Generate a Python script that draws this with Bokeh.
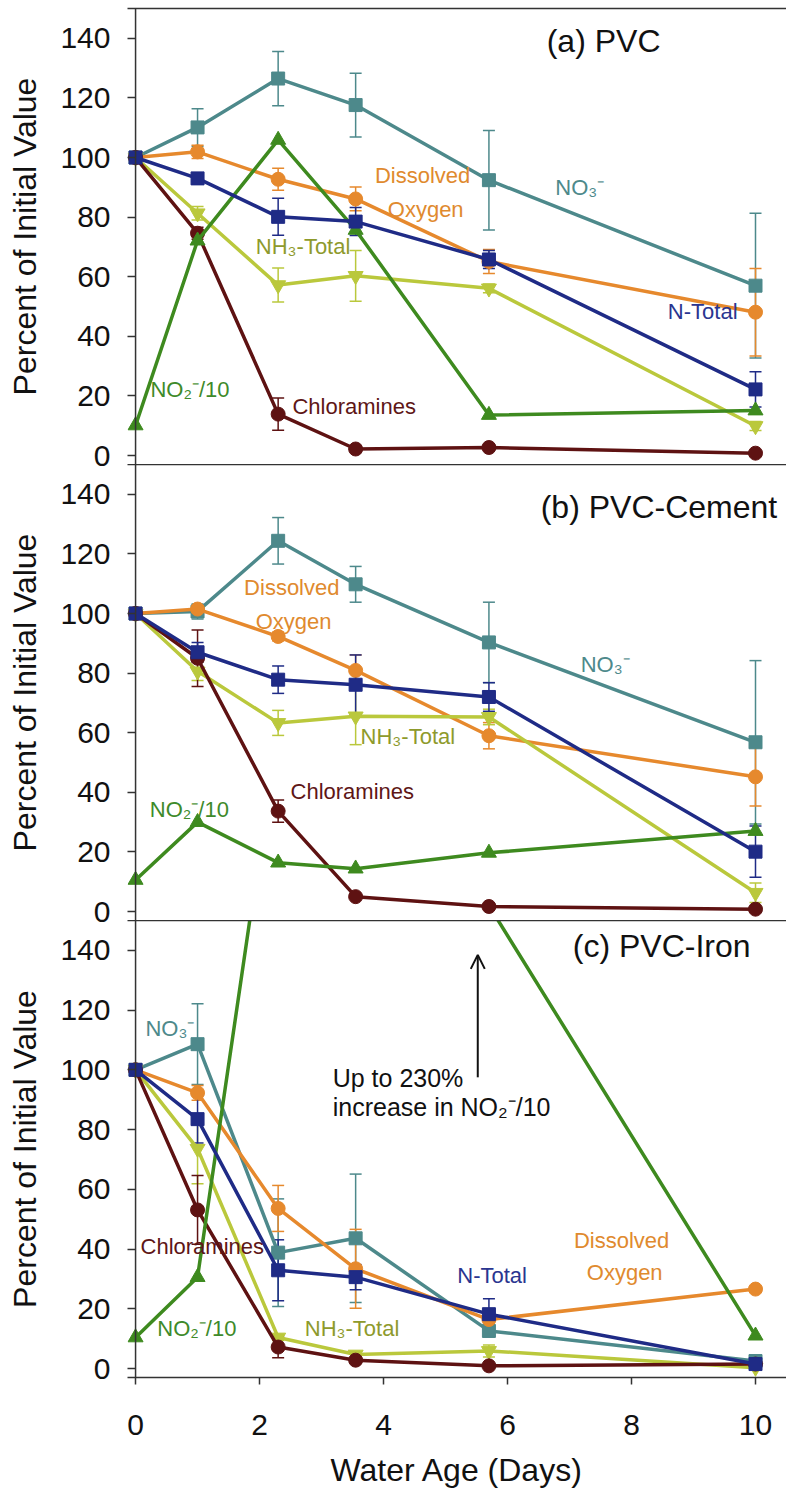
from bokeh.plotting import figure
from bokeh.layouts import column
from bokeh.models import (Range1d, LinearAxis, FixedTicker, ColumnDataSource,
                          Whisker, TeeHead, Arrow, OpenHead, Label, Span)
from bokeh.embed import file_html
from bokeh.resources import INLINE

FONT = "Liberation Sans"

# ---- data -----------------------------------------------------------------
days = [0, 1, 2.3, 3.55, 5.7, 10]
y_ticks = [0, 20, 40, 60, 80, 100, 120, 140]
x_ticks = [0, 2, 4, 6, 8, 10]

# (a) PVC
pvc_nitrate = [100, 110.1, 126.5, 117.6, 92.4, 57.0]
pvc_nitrate_err = [0, 6.3, 9.1, 10.7, 16.7, 24.3]
pvc_oxygen = [100, 101.9, 92.7, 86.1, 65.1, 48.1]
pvc_oxygen_err = [0, 2.2, 3.7, 4.0, 4.0, 14.7]
pvc_ntotal = [100, 93.0, 80.1, 78.5, 65.8, 22.2]
pvc_ntotal_err = [0, 1.0, 6.2, 4.7, 3.0, 5.9]
pvc_ammonia = [100, 81.3, 57.2, 60.3, 56.1, 9.9]
pvc_ammonia_err = [0, 2.3, 5.7, 8.5, 1.5, 1.5]
pvc_chloramine = [100, 74.6, 13.9, 2.2, 2.7, 0.8]
pvc_chloramine_err = [0, 2.0, 5.4, 0.5, 0.5, 0.3]
pvc_nitrite = [10.1, 72.1, 105.9, 75.7, 13.6, 15.1]

# (b) PVC-Cement
cem_nitrate = [100, 100.7, 124.4, 109.8, 90.3, 56.8]
cem_nitrate_err = [0, 2.5, 7.8, 6.0, 13.5, 27.4]
cem_oxygen = [100, 101.5, 92.3, 80.9, 59.0, 45.2]
cem_oxygen_err = [0, 1.0, 1.5, 5.2, 4.4, 9.8]
cem_ntotal = [100, 87.0, 77.8, 76.1, 72.0, 20.1]
cem_ntotal_err = [0, 3.3, 4.6, 10.0, 4.8, 8.6]
cem_ammonia = [100, 80.6, 63.3, 65.5, 65.3, 6.3]
cem_ammonia_err = [0, 3.1, 4.2, 9.5, 2.6, 3.3]
cem_chloramine = [100, 85.0, 33.7, 5.0, 1.7, 0.8]
cem_chloramine_err = [0, 9.5, 3.7, 0.5, 0.5, 0.3]
cem_nitrite = [10.6, 30.0, 16.4, 14.4, 19.7, 27.0]

# (c) PVC-Iron
iron_nitrate = [100, 108.6, 38.8, 43.6, 12.6, 2.5]
iron_nitrate_err = [0, 13.5, 18.0, 21.5, 2.0, 2.0]
iron_oxygen = [100, 92.3, 53.6, 33.4, 16.4, 26.6]
iron_oxygen_err = [0, 2.5, 7.7, 13.2, 2.0, 1.0]
iron_ntotal = [100, 83.5, 32.9, 30.6, 18.2, 1.5]
iron_ntotal_err = [0, 8.0, 10.2, 4.2, 5.2, 1.5]
iron_ammonia = [100, 73.6, 10.4, 4.7, 5.9, 0.3]
iron_ammonia_err = [0, 11.7, 1.0, 1.0, 2.0, 0.5]
iron_chloramine = [100, 53.1, 7.2, 2.8, 0.9, 1.5]
iron_chloramine_err = [0, 11.5, 3.6, 0.5, 0.5, 0.3]
iron_nitrite = [10.4, 30.6, 215, 230, 155, 11.0]

# ---- styles -----------------------------------------------------------------
STYLE = {
    "nitrate":    dict(color="#4d898b", marker="square", size=13),
    "oxygen":     dict(color="#e6892d", marker="circle", size=14),
    "ammonia":    dict(color="#bac83c", marker="inverted_triangle", size=15),
    "chloramine": dict(color="#5e1212", marker="circle", size=14),
    "nitrite":    dict(color="#3e8a1f", marker="triangle", size=15),
    "ntotal":     dict(color="#1f2b86", marker="square", size=13),
}
DRAW_ORDER = ["nitrate", "oxygen", "ammonia", "chloramine", "nitrite", "ntotal"]

TXT = {
    "nitrate": "#4d898b", "oxygen": "#e08a2e", "ammonia": "#8e9a2c",
    "chloramine": "#5e1616", "nitrite": "#3e8a2a", "ntotal": "#2a3590",
    "black": "#111111",
}
AXIS_COLOR = "#333333"
OVERLAP = 14   # lets the "0" tick label of a panel hang into the next one

# a little room left of day 0 so the first markers are not cut by the frame
x_range = Range1d(-0.13, 10.5)


def style_axis(ax, tick_in, tick_out, standoff, title, title_standoff):
    ax.major_tick_in = tick_in
    ax.major_tick_out = tick_out
    ax.minor_tick_out = 0
    ax.minor_tick_in = 0
    ax.major_tick_line_width = 1.5
    ax.major_tick_line_color = AXIS_COLOR
    ax.major_label_text_font = FONT
    ax.major_label_text_font_size = "30px"
    ax.major_label_text_color = "#111111"
    ax.major_label_standoff = standoff
    ax.axis_label = title
    ax.axis_label_text_font = FONT
    ax.axis_label_text_font_size = "32px"
    ax.axis_label_text_font_style = "normal"
    ax.axis_label_text_color = "#111111"
    ax.axis_label_standoff = title_standoff


def make_panel(height, border_top, border_bottom, series, labels, show_x,
               fill, margin):
    p = figure(width=786, height=height, x_range=x_range,
               y_range=Range1d(-3, 150), output_backend="svg",
               toolbar_location=None, x_axis_location=None,
               min_border_left=127, min_border_right=0,
               min_border_top=border_top, min_border_bottom=border_bottom,
               margin=margin)
    p.outline_line_color = None
    p.xgrid.visible = False
    p.ygrid.visible = False
    p.background_fill_color = fill
    p.border_fill_color = fill

    # y axis: ticks reach from the frame edge to the day-0 line
    ya = p.yaxis[0]
    ya.ticker = FixedTicker(ticks=y_ticks)
    ya.axis_line_color = None
    style_axis(ya, 8, 0, 17, "Percent of Initial Value", 14)
    p.add_layout(Span(location=0, dimension="height", line_color=AXIS_COLOR,
                      line_width=1.5))

    top = LinearAxis(ticker=FixedTicker(ticks=[]), major_tick_out=0,
                     major_tick_in=0, minor_tick_out=0, minor_tick_in=0,
                     major_label_text_font_size="0px",
                     axis_line_width=1.5, axis_line_color=AXIS_COLOR)
    p.add_layout(top, "above")

    if show_x:
        xa = LinearAxis(ticker=FixedTicker(ticks=x_ticks))
        xa.axis_line_width = 1.5
        xa.axis_line_color = AXIS_COLOR
        style_axis(xa, 0, 7, 30, "Water Age (Days)", 14)
        p.add_layout(xa, "below")

    for key in DRAW_ORDER:
        vals, errs = series[key]
        st = STYLE[key]
        c = st["color"]
        if errs is not None:
            xs, lo, hi = [], [], []
            for d, v, e in zip(days, vals, errs):
                if e > 0:
                    xs.append(d)
                    lo.append(v - e)
                    hi.append(v + e)
            src = ColumnDataSource(dict(x=xs, lower=lo, upper=hi))
            p.add_layout(Whisker(source=src, base="x", lower="lower",
                                 upper="upper", dimension="height",
                                 line_color=c, line_width=1.5,
                                 upper_head=TeeHead(size=12, line_color=c, line_width=1.5),
                                 lower_head=TeeHead(size=12, line_color=c, line_width=1.5)))
        p.line(days, vals, line_color=c, line_width=3.5)
        p.scatter(days, vals, marker=st["marker"], size=st["size"],
                  fill_color=c, line_color=c)

    for text, x, y, col, size, align in labels:
        p.add_layout(Label(x=x, y=y, text=text, text_font=FONT,
                           text_font_size=size, text_color=TXT[col],
                           text_align=align, text_baseline="middle"))
    return p


LBL = "22px"
TTL = "32px"

panel_a = make_panel(
    464 + OVERLAP, 8, OVERLAP,
    {"nitrate": (pvc_nitrate, pvc_nitrate_err),
     "oxygen": (pvc_oxygen, pvc_oxygen_err),
     "ntotal": (pvc_ntotal, pvc_ntotal_err),
     "ammonia": (pvc_ammonia, pvc_ammonia_err),
     "chloramine": (pvc_chloramine, pvc_chloramine_err),
     "nitrite": (pvc_nitrite, None)},
    [("(a) PVC", 7.55, 139.0, "black", TTL, "center"),
     ("Dissolved", 4.63, 93.8, "oxygen", LBL, "center"),
     ("Oxygen", 4.68, 82.4, "oxygen", LBL, "center"),
     ("NO\u2083\u207b", 6.77, 90.1, "nitrate", LBL, "left"),
     ("NH\u2083-Total", 1.94, 70.0, "ammonia", LBL, "left"),
     ("N-Total", 9.71, 48.2, "ntotal", LBL, "right"),
     ("NO\u2082\u207b/10", 0.24, 22.0, "nitrite", LBL, "left"),
     ("Chloramines", 2.53, 16.3, "chloramine", LBL, "left")],
    False, "white", (0, 0, -OVERLAP, 0))

panel_b = make_panel(
    456 + OVERLAP, 0, OVERLAP,
    {"nitrate": (cem_nitrate, cem_nitrate_err),
     "oxygen": (cem_oxygen, cem_oxygen_err),
     "ntotal": (cem_ntotal, cem_ntotal_err),
     "ammonia": (cem_ammonia, cem_ammonia_err),
     "chloramine": (cem_chloramine, cem_chloramine_err),
     "nitrite": (cem_nitrite, None)},
    [("(b) PVC-Cement", 10.35, 135.8, "black", TTL, "right"),
     ("Dissolved", 2.52, 108.6, "oxygen", LBL, "center"),
     ("Oxygen", 2.55, 97.2, "oxygen", LBL, "center"),
     ("NO\u2083\u207b", 7.18, 82.8, "nitrate", LBL, "left"),
     ("NH\u2083-Total", 3.63, 58.7, "ammonia", LBL, "left"),
     ("Chloramines", 2.5, 40.3, "chloramine", LBL, "left"),
     ("NO\u2082\u207b/10", 0.23, 34.3, "nitrite", LBL, "left")],
    False, None, (0, 0, -OVERLAP, 0))

panel_c = make_panel(
    570, 0, 113,
    {"nitrate": (iron_nitrate, iron_nitrate_err),
     "oxygen": (iron_oxygen, iron_oxygen_err),
     "ntotal": (iron_ntotal, iron_ntotal_err),
     "ammonia": (iron_ammonia, iron_ammonia_err),
     "chloramine": (iron_chloramine, iron_chloramine_err),
     "nitrite": (iron_nitrite, None)},
    [("(c) PVC-Iron", 9.92, 141.3, "black", TTL, "right"),
     ("NO\u2083\u207b", 0.16, 114.0, "nitrate", LBL, "left"),
     ("Chloramines", 0.08, 40.7, "chloramine", LBL, "left"),
     ("N-Total", 5.19, 31.3, "ntotal", LBL, "left"),
     ("Dissolved", 7.84, 42.7, "oxygen", LBL, "center"),
     ("Oxygen", 7.89, 32.0, "oxygen", LBL, "center"),
     ("NO\u2082\u207b/10", 0.35, 13.5, "nitrite", LBL, "left"),
     ("NH\u2083-Total", 2.73, 13.5, "ammonia", LBL, "left"),
     ("Up to 230%", 3.18, 97.2, "black", "25px", "left"),
     ("increase in NO\u2082\u207b/10", 3.18, 87.5, "black", "25px", "left")],
    True, None, (0, 0, 0, 0))

panel_c.add_layout(Arrow(end=OpenHead(size=14, line_width=2, line_color="#111111"),
                         x_start=5.52, y_start=97.5, x_end=5.52, y_end=138.5,
                         line_width=2, line_color="#111111"))

layout = column(panel_a, panel_b, panel_c, spacing=0)

with open("out.html", "w") as f:
    f.write(file_html(layout, INLINE))
